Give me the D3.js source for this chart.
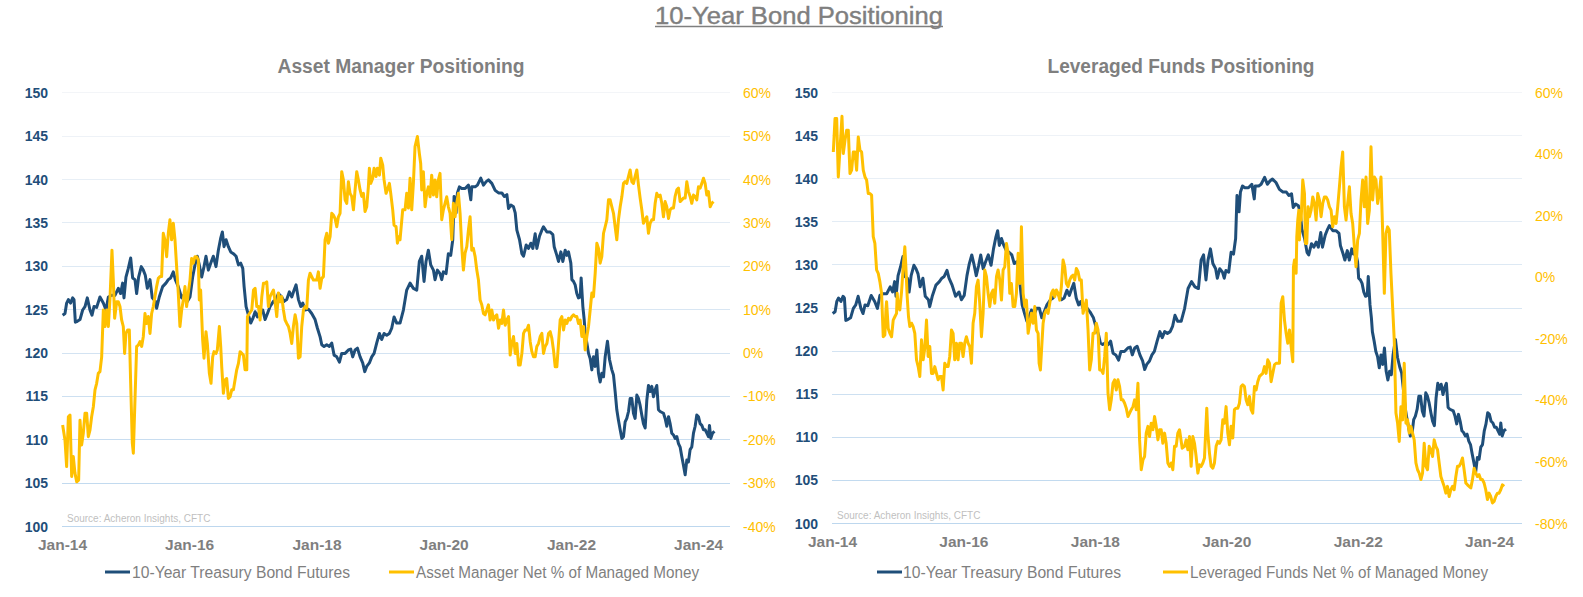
<!DOCTYPE html>
<html>
<head>
<meta charset="utf-8">
<script src="https://cdn.jsdelivr.net/npm/d3@7"></script>
<style>
  html, body { margin: 0; padding: 0; background: #ffffff; }
  svg { display: block; }
  .narrow { font-family: 'Liberation Sans Narrow', 'Arial Narrow', 'Liberation Sans', Arial, sans-serif; }
  .arial { font-family: 'Liberation Sans', Arial, sans-serif; }
</style>
</head>
<body>
<svg id="chart" width="1583" height="597"></svg>
<script>
// ---------------- DATA (x = years since Jan 2014) ----------------
const BASE_YEAR = 2014;
const mainTitle = "10-Year Bond Positioning";
const panelTitles = ["Asset Manager Positioning", "Leveraged Funds Positioning"];
const seriesNames = ["10-Year Treasury Bond Futures", "Asset Manager Net % of Managed Money", "Leveraged Funds Net % of Managed Money"];
const sourceText = "Source: Acheron Insights, CFTC";
const leftTicks = [100, 105, 110, 115, 120, 125, 130, 135, 140, 145, 150];
const rightTicksAM = [-40, -30, -20, -10, 0, 10, 20, 30, 40, 50, 60];
const rightTicksLF = [-80, -60, -40, -20, 0, 20, 40, 60];
const xTickYears = [2014, 2016, 2018, 2020, 2022, 2024];
const xDomainYears = [0, 10.5];

const treasury = [
[0.01,124.3],[0.047,124.5],[0.073,125.7],[0.10,126.1],[0.136,125.7],[0.168,126.3],[0.189,126.1],[0.21,123.5],[0.241,123.6],[0.283,123.8],
[0.325,124.9],[0.362,125.3],[0.398,126.3],[0.44,124.9],[0.472,124.3],[0.503,125.3],[0.545,125.2],[0.597,126.4],[0.65,125.7],[0.692,124.9],
[0.729,126.4],[0.781,126.6],[0.833,126.6],[0.886,127.4],[0.922,126.8],[0.954,128.0],[0.975,126.3],[1.006,128.7],[1.043,129.7],[1.08,130.9],
[1.111,128.6],[1.148,128.4],[1.174,126.8],[1.205,128.7],[1.247,129.9],[1.279,129.5],[1.31,128.9],[1.342,127.4],[1.384,128.4],[1.42,126.3],
[1.468,125.9],[1.488,125.1],[1.53,126.4],[1.583,127.6],[1.635,128.0],[1.672,128.4],[1.709,128.6],[1.751,129.3],[1.782,128.4],[1.829,127.6],
[1.882,126.3],[1.934,126.8],[1.971,125.9],[2.013,126.4],[2.055,128.7],[2.091,130.1],[2.128,131.1],[2.159,130.1],[2.196,128.7],[2.233,129.9],
[2.264,131.1],[2.301,129.5],[2.338,130.3],[2.379,131.1],[2.421,129.9],[2.458,131.8],[2.495,133.2],[2.521,133.9],[2.547,132.2],[2.579,133.0],
[2.615,132.2],[2.652,131.6],[2.694,131.4],[2.736,131.1],[2.773,130.1],[2.809,130.3],[2.841,129.7],[2.862,127.6],[2.893,125.3],[2.93,124.3],
[2.966,123.4],[2.998,123.9],[3.035,124.7],[3.071,124.1],[3.113,124.9],[3.155,124.9],[3.192,123.8],[3.229,124.5],[3.27,125.3],[3.323,125.9],
[3.365,126.1],[3.401,126.8],[3.454,126.4],[3.491,125.9],[3.532,126.1],[3.574,127.0],[3.611,126.4],[3.648,127.2],[3.679,127.8],[3.716,126.1],
[3.753,125.3],[3.784,125.7],[3.821,124.9],[3.873,125.0],[3.925,124.5],[3.978,123.8],[4.015,122.8],[4.057,121.8],[4.083,120.9],[4.119,120.7],
[4.161,120.9],[4.203,120.7],[4.24,121.1],[4.277,119.7],[4.319,119.5],[4.361,118.9],[4.397,119.9],[4.45,119.9],[4.502,120.3],[4.539,120.4],
[4.57,119.5],[4.607,120.3],[4.644,120.5],[4.686,119.5],[4.727,118.8],[4.759,117.8],[4.790,118.4],[4.832,118.8],[4.869,119.5],[4.906,119.9],
[4.948,121.1],[4.99,122.2],[5.026,121.5],[5.063,122.2],[5.105,122.0],[5.147,122.2],[5.183,122.8],[5.22,124.1],[5.262,123.4],[5.314,123.4],
[5.367,124.9],[5.419,127.2],[5.472,128.0],[5.524,127.4],[5.577,127.2],[5.618,130.5],[5.655,131.1],[5.692,128.2],[5.723,130.5],[5.76,131.8],
[5.797,130.1],[5.839,129.5],[5.865,128.4],[5.902,129.5],[5.943,129.1],[5.97,128.4],[5.996,129.3],[6.038,129.1],[6.074,131.4],[6.111,131.2],
[6.143,133.0],[6.164,138.0],[6.195,136.1],[6.216,138.4],[6.247,139.1],[6.284,138.9],[6.337,138.9],[6.389,139.3],[6.426,137.6],[6.441,139.1],
[6.494,139.1],[6.53,139.3],[6.583,140.1],[6.625,139.3],[6.667,139.7],[6.703,139.9],[6.756,139.5],[6.808,138.7],[6.861,138.4],[6.913,138.4],
[6.95,138.0],[6.992,138.2],[7.018,136.6],[7.055,137.0],[7.096,136.8],[7.123,136.1],[7.149,134.1],[7.191,133.0],[7.228,131.4],[7.254,131.1],
[7.296,132.4],[7.332,132.0],[7.369,132.6],[7.4,132.0],[7.437,133.7],[7.463,132.0],[7.505,133.4],[7.542,134.1],[7.568,134.5],[7.621,133.9],
[7.673,133.9],[7.715,133.6],[7.736,132.2],[7.778,131.2],[7.804,130.5],[7.841,131.6],[7.872,130.5],[7.909,131.8],[7.935,131.2],[7.961,131.6],
[7.998,130.3],[8.014,128.4],[8.04,128.2],[8.066,127.8],[8.092,126.8],[8.118,126.3],[8.145,126.4],[8.16,128.6],[8.187,125.3],[8.208,123.8],
[8.223,122.2],[8.25,121.1],[8.276,119.9],[8.302,119.3],[8.328,118.0],[8.354,119.5],[8.381,118.4],[8.407,120.3],[8.433,117.6],[8.459,116.6],
[8.485,117.6],[8.512,117.2],[8.538,119.5],[8.574,121.3],[8.606,119.2],[8.643,118.0],[8.669,117.4],[8.695,115.5],[8.721,113.4],[8.747,112.2],
[8.774,111.1],[8.8,110.1],[8.826,110.3],[8.852,112.0],[8.878,112.4],[8.905,113.2],[8.931,114.7],[8.957,114.7],[8.983,113.0],[9.009,112.4],
[9.036,115.1],[9.062,114.7],[9.088,113.9],[9.114,112.8],[9.14,111.8],[9.167,111.3],[9.193,114.5],[9.219,116.2],[9.245,115.5],[9.271,116.1],
[9.298,114.9],[9.324,115.7],[9.35,116.2],[9.376,113.4],[9.403,113.2],[9.455,113.0],[9.481,112.4],[9.507,111.5],[9.534,112.6],[9.56,111.8],
[9.586,110.7],[9.612,110.5],[9.638,110.1],[9.665,110.3],[9.691,109.5],[9.717,109.1],[9.743,108.0],[9.769,107.0],[9.796,105.9],[9.822,107.6],
[9.848,107.4],[9.874,108.8],[9.9,109.1],[9.927,110.7],[9.953,111.5],[9.979,112.8],[10.005,112.6],[10.031,111.8],[10.058,111.6],[10.084,111.1],
[10.11,111.1],[10.136,110.7],[10.162,110.3],[10.178,111.6],[10.199,110.1],[10.225,110.7],[10.257,110.9]
];

const assetManagerPct = [
[0.01,-16.7],[0.047,-20.2],[0.073,-26.3],[0.10,-14.8],[0.126,-14.4],[0.152,-28.6],[0.178,-24.0],[0.204,-27.8],[0.231,-29.8],[0.262,-29.4],
[0.283,-15.6],[0.309,-21.3],[0.335,-18.6],[0.362,-14.0],[0.388,-14.0],[0.414,-19.4],[0.44,-17.9],[0.466,-14.8],[0.493,-12.5],[0.519,-8.6],
[0.545,-7.1],[0.571,-4.8],[0.597,-4.4],[0.624,-1.0],[0.65,9.8],[0.676,6.0],[0.702,9.8],[0.729,6.0],[0.755,12.5],[0.786,23.6],
[0.807,16.7],[0.828,7.9],[0.86,11.7],[0.886,11.7],[0.912,10.6],[0.938,7.5],[0.964,6.0],[0.985,-0.2],[1.006,4.4],[1.033,5.2],
[1.059,5.2],[1.08,-7.1],[1.106,-20.9],[1.122,-23.2],[1.148,-10.9],[1.174,1.4],[1.2,1.7],[1.226,2.5],[1.253,1.4],[1.279,3.7],
[1.305,9.0],[1.331,6.7],[1.358,8.3],[1.384,4.4],[1.41,9.0],[1.436,10.6],[1.462,12.9],[1.488,15.2],[1.515,17.1],[1.541,17.5],
[1.567,17.5],[1.593,27.5],[1.619,26.0],[1.646,22.1],[1.672,27.5],[1.698,30.6],[1.724,26.0],[1.751,29.8],[1.777,26.0],[1.803,19.8],
[1.829,13.7],[1.855,6.0],[1.882,9.8],[1.908,12.1],[1.934,15.2],[1.96,10.6],[1.986,13.7],[2.013,16.7],[2.039,21.7],[2.065,20.6],
[2.091,22.1],[2.117,22.1],[2.144,21.3],[2.159,12.1],[2.18,14.4],[2.212,2.9],[2.233,-1.3],[2.264,4.8],[2.285,2.1],[2.317,-4.8],
[2.343,-7.1],[2.369,-1.0],[2.39,0.2],[2.421,-0.2],[2.442,0.6],[2.474,6.0],[2.495,1.4],[2.511,-3.3],[2.537,-9.4],[2.563,-6.3],
[2.589,-6.0],[2.615,-10.6],[2.642,-10.2],[2.668,-8.6],[2.694,-8.6],[2.72,-6.3],[2.746,-4.0],[2.773,-2.5],[2.799,0.2],[2.825,-0.2],
[2.851,-0.6],[2.877,-4.0],[2.904,-4.0],[2.914,8.3],[2.946,9.0],[2.982,9.8],[3.009,14.4],[3.035,14.8],[3.061,10.6],[3.087,10.6],
[3.113,7.5],[3.14,12.9],[3.166,16.0],[3.192,16.0],[3.218,16.3],[3.244,10.6],[3.27,12.9],[3.297,13.7],[3.323,14.4],[3.349,11.7],
[3.375,8.3],[3.401,13.7],[3.428,11.7],[3.454,12.9],[3.48,9.8],[3.506,7.5],[3.532,6.7],[3.559,6.0],[3.585,4.4],[3.611,2.1],
[3.637,6.0],[3.664,8.7],[3.69,6.7],[3.716,-1.3],[3.742,-1.0],[3.768,6.0],[3.795,9.8],[3.821,10.6],[3.847,10.2],[3.873,16.7],
[3.899,18.3],[3.925,17.5],[3.952,16.7],[3.978,16.7],[4.004,16.7],[4.03,18.6],[4.057,14.8],[4.083,17.1],[4.109,17.5],[4.135,26.0],
[4.161,27.5],[4.188,25.2],[4.214,26.7],[4.24,32.1],[4.266,31.7],[4.292,30.9],[4.319,29.0],[4.345,31.3],[4.371,32.1],[4.397,41.7],
[4.423,39.8],[4.45,35.2],[4.476,34.4],[4.502,39.4],[4.528,36.7],[4.554,36.0],[4.581,32.9],[4.607,37.5],[4.633,41.7],[4.659,39.8],
[4.686,37.5],[4.712,36.0],[4.738,36.7],[4.764,32.5],[4.79,33.6],[4.816,38.2],[4.832,42.5],[4.853,39.0],[4.885,40.2],[4.906,42.5],
[4.937,40.6],[4.958,42.5],[4.99,40.9],[5.011,44.8],[5.042,43.2],[5.063,39.8],[5.094,36.7],[5.115,37.5],[5.147,39.0],[5.168,36.7],
[5.199,32.9],[5.22,29.4],[5.252,29.0],[5.273,25.2],[5.294,26.7],[5.314,26.0],[5.356,32.9],[5.393,32.9],[5.419,36.7],[5.446,33.3],
[5.472,40.2],[5.498,32.9],[5.524,39.0],[5.55,47.5],[5.587,49.8],[5.618,45.9],[5.639,43.6],[5.655,37.5],[5.681,41.7],[5.708,33.6],
[5.734,36.7],[5.76,38.2],[5.786,35.9],[5.812,40.9],[5.839,36.3],[5.865,39.8],[5.891,35.9],[5.917,39.8],[5.943,41.3],[5.97,30.6],
[5.996,32.9],[6.022,34.4],[6.048,35.9],[6.074,33.6],[6.101,32.1],[6.127,26.0],[6.153,34.4],[6.179,31.3],[6.205,34.4],[6.232,36.7],
[6.258,32.1],[6.284,24.4],[6.31,19.0],[6.336,22.9],[6.363,24.4],[6.389,28.3],[6.415,31.3],[6.441,23.6],[6.467,24.0],[6.494,22.1],
[6.52,19.0],[6.546,16.7],[6.572,12.1],[6.598,11.0],[6.625,9.0],[6.651,8.7],[6.677,9.8],[6.703,11.0],[6.729,7.5],[6.756,9.8],
[6.782,7.5],[6.808,8.3],[6.834,8.7],[6.861,5.6],[6.887,7.5],[6.913,6.7],[6.939,9.8],[6.965,6.3],[6.992,7.5],[7.018,8.3],
[7.044,-0.6],[7.07,2.1],[7.096,3.7],[7.123,-0.2],[7.149,2.1],[7.175,-2.9],[7.201,-2.9],[7.228,-0.2],[7.254,4.4],[7.28,5.2],
[7.306,5.2],[7.332,6.3],[7.359,2.5],[7.385,0.2],[7.411,-1.0],[7.437,-1.0],[7.463,1.4],[7.49,2.1],[7.516,3.7],[7.542,4.4],
[7.568,-0.2],[7.594,1.4],[7.621,2.1],[7.647,4.4],[7.673,4.8],[7.699,3.3],[7.725,0.6],[7.752,-3.3],[7.778,-3.3],[7.804,2.1],
[7.83,7.5],[7.856,8.3],[7.883,5.2],[7.909,7.5],[7.935,6.7],[7.961,7.9],[7.987,7.5],[8.014,8.3],[8.04,8.7],[8.066,8.3],
[8.092,8.3],[8.118,6.7],[8.145,7.5],[8.171,3.7],[8.197,6.0],[8.223,0.6],[8.25,3.7],[8.276,6.0],[8.302,9.8],[8.328,13.7],
[8.354,12.9],[8.381,18.3],[8.407,25.2],[8.433,24.0],[8.459,20.6],[8.485,22.1],[8.512,27.5],[8.538,29.0],[8.564,30.6],[8.59,35.2],
[8.616,35.2],[8.643,33.6],[8.669,32.1],[8.695,29.0],[8.721,26.0],[8.747,30.6],[8.774,33.6],[8.8,35.9],[8.826,39.0],[8.852,39.4],
[8.878,39.0],[8.905,40.6],[8.931,42.1],[8.957,39.4],[8.983,39.0],[9.009,40.6],[9.036,42.1],[9.062,38.6],[9.088,35.6],[9.114,32.9],
[9.14,29.8],[9.167,30.6],[9.193,31.3],[9.219,27.5],[9.245,29.8],[9.271,30.6],[9.298,30.6],[9.324,34.4],[9.35,36.7],[9.376,36.0],
[9.403,36.3],[9.429,34.4],[9.455,31.3],[9.481,34.8],[9.507,33.6],[9.534,30.9],[9.56,32.9],[9.586,33.3],[9.612,33.3],[9.638,36.0],
[9.665,37.5],[9.691,37.9],[9.717,34.8],[9.743,35.2],[9.769,35.6],[9.796,35.6],[9.822,39.4],[9.848,37.1],[9.874,36.0],[9.9,34.4],
[9.927,36.3],[9.953,36.0],[9.979,35.2],[10.005,38.2],[10.031,37.9],[10.058,39.0],[10.084,40.2],[10.11,39.0],[10.136,36.3],[10.162,37.1],
[10.189,33.6],[10.215,34.4],[10.241,34.8]
];

const leveragedFundsPct = [
[0.02,40.5],[0.046,51.4],[0.071,51.4],[0.096,32.4],[0.152,52.1],[0.172,40.0],[0.198,44.3],[0.223,47.6],[0.248,47.6],[0.274,33.5],
[0.299,34.6],[0.324,40.5],[0.35,40.5],[0.375,34.6],[0.4,45.4],[0.426,41.1],[0.451,40.5],[0.476,34.6],[0.502,32.4],[0.527,31.4],
[0.552,27.0],[0.578,27.0],[0.603,26.5],[0.628,13.0],[0.653,10.8],[0.679,2.2],[0.704,1.1],[0.729,-1.6],[0.755,-5.4],[0.78,-19.5],
[0.805,-18.9],[0.821,-10.8],[0.831,-8.1],[0.856,-16.8],[0.881,-18.4],[0.907,-19.5],[0.932,-14.1],[0.957,-13.0],[0.983,-11.9],[0.993,-5.4],
[1.008,-9.7],[1.033,-10.8],[1.059,-4.9],[1.084,3.2],[1.109,9.7],[1.125,3.2],[1.145,-6.5],[1.165,-13.0],[1.185,-16.2],[1.211,-15.1],
[1.236,-16.2],[1.261,-18.4],[1.287,-27.0],[1.312,-29.2],[1.337,-32.4],[1.363,-20.5],[1.388,-27.0],[1.413,-23.2],[1.439,-14.1],[1.464,-25.9],
[1.489,-22.7],[1.515,-31.4],[1.54,-31.4],[1.565,-29.2],[1.591,-31.4],[1.616,-33.5],[1.641,-32.4],[1.667,-32.4],[1.692,-36.8],[1.717,-28.1],
[1.743,-29.2],[1.768,-29.2],[1.793,-25.9],[1.819,-17.3],[1.844,-18.4],[1.869,-27.0],[1.895,-21.6],[1.92,-27.0],[1.945,-21.6],[1.971,-21.6],
[1.996,-25.9],[2.021,-21.6],[2.047,-19.5],[2.072,-21.6],[2.097,-22.7],[2.123,-28.1],[2.148,-15.1],[2.173,-11.9],[2.199,-3.2],[2.224,-1.1],
[2.249,-8.6],[2.275,-19.5],[2.3,-11.9],[2.325,2.2],[2.351,0.0],[2.376,-5.4],[2.401,-9.7],[2.427,-5.4],[2.452,-4.3],[2.477,-8.6],
[2.503,0.0],[2.528,2.2],[2.553,-1.1],[2.579,-7.6],[2.604,2.2],[2.629,3.2],[2.655,10.8],[2.68,7.6],[2.705,-5.4],[2.73,-2.2],
[2.756,-9.7],[2.781,-9.7],[2.806,-5.4],[2.832,7.6],[2.857,-2.2],[2.867,0.0],[2.882,16.2],[2.908,-5.4],[2.933,-9.7],[2.958,-7.6],
[2.984,-18.4],[3.009,-15.1],[3.034,-11.9],[3.06,-15.1],[3.085,-9.7],[3.11,-17.3],[3.136,-18.4],[3.151,-28.1],[3.171,-30.3],[3.191,-22.7],
[3.212,-15.1],[3.237,-11.9],[3.262,-10.8],[3.288,-11.9],[3.313,-8.6],[3.338,-5.4],[3.364,-4.3],[3.389,-6.5],[3.414,-4.3],[3.44,-5.4],
[3.465,-7.6],[3.49,-3.2],[3.516,5.4],[3.541,3.2],[3.566,-2.2],[3.592,-3.2],[3.617,-1.1],[3.642,0.0],[3.668,0.5],[3.693,-1.1],
[3.718,2.7],[3.744,1.6],[3.769,-1.1],[3.794,-1.1],[3.82,-11.9],[3.845,-9.7],[3.87,-7.6],[3.896,-17.3],[3.921,-30.3],[3.946,-27.0],
[3.972,-18.4],[3.997,-18.4],[4.022,-15.1],[4.048,-17.3],[4.073,-30.3],[4.098,-30.3],[4.124,-31.4],[4.149,-25.9],[4.174,-18.4],[4.2,-37.8],
[4.225,-43.2],[4.25,-40.0],[4.276,-34.6],[4.301,-33.5],[4.326,-36.8],[4.352,-33.5],[4.377,-35.7],[4.402,-40.0],[4.428,-40.0],[4.453,-41.1],
[4.478,-42.7],[4.504,-45.4],[4.529,-44.3],[4.554,-43.2],[4.58,-42.2],[4.605,-40.0],[4.63,-43.2],[4.656,-34.6],[4.681,-53.0],[4.706,-62.7],
[4.732,-59.5],[4.757,-58.4],[4.782,-50.8],[4.808,-48.6],[4.833,-51.9],[4.858,-47.6],[4.884,-49.7],[4.909,-45.4],[4.934,-48.6],[4.96,-53.0],
[4.985,-49.7],[5.01,-49.7],[5.035,-54.1],[5.061,-50.8],[5.086,-54.1],[5.111,-60.5],[5.137,-61.6],[5.162,-60.5],[5.187,-62.7],[5.213,-55.1],
[5.238,-55.1],[5.263,-50.8],[5.289,-49.7],[5.33,-55.7],[5.365,-55.1],[5.39,-53.0],[5.416,-56.2],[5.441,-51.9],[5.466,-61.6],[5.492,-51.9],
[5.517,-54.1],[5.542,-58.4],[5.568,-63.8],[5.593,-61.1],[5.618,-61.6],[5.644,-60.5],[5.669,-58.9],[5.704,-42.7],[5.72,-50.8],[5.745,-57.3],
[5.77,-61.6],[5.796,-62.2],[5.821,-60.5],[5.846,-55.1],[5.872,-53.5],[5.897,-54.1],[5.922,-53.0],[5.948,-46.5],[5.973,-47.6],[5.998,-42.2],
[6.024,-50.8],[6.049,-54.6],[6.074,-48.6],[6.1,-52.4],[6.125,-43.2],[6.15,-42.7],[6.176,-42.7],[6.201,-41.1],[6.226,-35.7],[6.251,-35.1],
[6.277,-35.7],[6.302,-40.0],[6.327,-41.6],[6.353,-38.9],[6.378,-43.2],[6.403,-44.3],[6.429,-35.7],[6.454,-36.8],[6.479,-34.1],[6.505,-32.4],
[6.53,-31.9],[6.555,-31.4],[6.581,-29.2],[6.606,-31.4],[6.631,-27.0],[6.657,-28.1],[6.682,-34.1],[6.707,-31.4],[6.733,-28.6],[6.758,-28.1],
[6.783,-28.1],[6.809,-28.1],[6.834,-8.6],[6.859,-6.5],[6.885,-14.1],[6.91,-18.4],[6.935,-21.6],[6.961,-17.3],[6.986,-22.7],[7.011,-27.6],
[7.021,3.2],[7.037,5.4],[7.062,1.1],[7.072,13.0],[7.087,18.4],[7.103,21.6],[7.113,11.9],[7.123,20.5],[7.138,18.4],[7.163,31.4],
[7.189,27.0],[7.204,10.8],[7.224,10.8],[7.244,22.7],[7.265,19.5],[7.29,21.6],[7.315,25.9],[7.341,23.8],[7.366,18.4],[7.391,27.0],
[7.417,24.9],[7.442,19.5],[7.467,23.8],[7.493,25.9],[7.518,25.9],[7.543,24.9],[7.569,22.7],[7.594,21.6],[7.619,16.2],[7.645,19.5],
[7.67,17.3],[7.695,22.7],[7.721,29.2],[7.746,35.7],[7.771,40.5],[7.797,22.7],[7.822,18.4],[7.847,23.8],[7.873,29.2],[7.898,20.5],
[7.923,17.3],[7.949,9.7],[7.974,3.2],[7.999,11.9],[8.025,14.1],[8.05,24.9],[8.075,31.4],[8.101,22.7],[8.126,32.4],[8.151,17.3],
[8.177,21.6],[8.202,42.2],[8.227,24.9],[8.253,32.4],[8.278,31.4],[8.303,23.8],[8.329,27.0],[8.354,32.4],[8.379,15.1],[8.405,-5.4],
[8.43,14.1],[8.455,16.2],[8.48,15.1],[8.506,1.1],[8.531,-9.7],[8.556,-20.5],[8.582,-44.3],[8.607,-47.6],[8.632,-53.5],[8.658,-42.2],
[8.683,-46.5],[8.708,-28.1],[8.734,-47.6],[8.759,-46.5],[8.784,-50.8],[8.81,-48.6],[8.835,-50.8],[8.86,-53.0],[8.886,-60.5],[8.911,-62.7],
[8.936,-63.8],[8.962,-65.9],[8.987,-63.8],[9.012,-54.1],[9.038,-61.6],[9.063,-62.7],[9.088,-55.1],[9.114,-56.2],[9.139,-58.4],[9.164,-53.0],
[9.19,-55.1],[9.215,-56.2],[9.24,-60.5],[9.266,-64.9],[9.291,-66.5],[9.316,-68.1],[9.342,-70.3],[9.367,-68.1],[9.392,-71.4],[9.418,-69.2],
[9.443,-68.1],[9.468,-69.2],[9.494,-64.9],[9.519,-61.6],[9.544,-61.6],[9.57,-60.5],[9.595,-58.9],[9.62,-62.7],[9.646,-67.0],[9.671,-67.6],
[9.696,-68.1],[9.722,-68.6],[9.747,-65.9],[9.772,-62.2],[9.798,-63.8],[9.823,-64.9],[9.848,-64.3],[9.874,-65.9],[9.899,-65.9],[9.924,-67.0],
[9.949,-69.2],[9.975,-72.4],[10.0,-70.3],[10.025,-71.4],[10.051,-73.5],[10.076,-73.0],[10.101,-71.4],[10.127,-70.3],[10.152,-70.3],[10.177,-69.2],
[10.203,-67.6],[10.228,-68.1]
];

// ---------------- STYLE ----------------
const NAVY = "#1f4e79", GOLD = "#ffc000", GRAY = "#7f7f7f";

function toDate(off) {
  const y = BASE_YEAR + Math.floor(off);
  const frac = off - Math.floor(off);
  const s = Date.UTC(y, 0, 1), e = Date.UTC(y + 1, 0, 1);
  return new Date(s + frac * (e - s));
}

const svg = d3.select("#chart");

// main title
svg.append("text")
  .attr("class", "arial")
  .attr("x", 799).attr("y", 23.5)
  .attr("text-anchor", "middle")
  .attr("font-size", 23)
  .attr("fill", GRAY)
  .attr("stroke", GRAY).attr("stroke-width", 0.4)
  .attr("textLength", 288).attr("lengthAdjust", "spacingAndGlyphs")
  .text(mainTitle);
svg.append("line").attr("x1", 655).attr("x2", 943).attr("y1", 26.5).attr("y2", 26.5)
  .attr("stroke", GRAY).attr("stroke-width", 1.5);

const panels = [
  { title: panelTitles[0], titleW: 247, x0: 62, x1: 730, y0: 92.3, y1: 526, pct: assetManagerPct, pctDomain: [-40, 60], pctTicks: rightTicksAM,
    name2: seriesNames[1], leftLabelX: 48, rightLabelX: 743, titleX: 401,
    legend: { s1: 105, t1: 132, w1: 218, s2: 389, t2: 416, w2: 283 }, sourceX: 67 },
  { title: panelTitles[1], titleW: 267, x0: 832, x1: 1522, y0: 92, y1: 523, pct: leveragedFundsPct, pctDomain: [-80, 60], pctTicks: rightTicksLF,
    name2: seriesNames[2], leftLabelX: 818, rightLabelX: 1535, titleX: 1181,
    legend: { s1: 877, t1: 903, w1: 218, s2: 1163, t2: 1190, w2: 298 }, sourceX: 837 }
];

const gridColor = d3.scaleLinear().domain([150, 100]).range(["#f3f5f8", "#bdd7ee"]);

panels.forEach(p => {
  const x = d3.scaleUtc().domain(xDomainYears.map(toDate)).range([p.x0, p.x1]);
  const yL = d3.scaleLinear().domain([100, 150]).range([p.y1, p.y0]);
  const yR = d3.scaleLinear().domain(p.pctDomain).range([p.y1, p.y0]);
  const g = svg.append("g");

  // panel title
  g.append("text").attr("class", "narrow")
    .attr("x", p.titleX).attr("y", 73)
    .attr("text-anchor", "middle").attr("font-size", 20).attr("font-weight", "bold")
    .attr("fill", GRAY)
    .attr("textLength", p.titleW).attr("lengthAdjust", "spacingAndGlyphs")
    .text(p.title);

  // gridlines
  g.append("g").selectAll("line").data(leftTicks).join("line")
    .attr("x1", p.x0).attr("x2", p.x1)
    .attr("y1", d => Math.round(yL(d)) + 0.5).attr("y2", d => Math.round(yL(d)) + 0.5)
    .attr("stroke", d => gridColor(d)).attr("stroke-width", 1);

  // left axis
  const axL = d3.axisLeft(yL).tickValues(leftTicks).tickSize(0).tickPadding(0).tickFormat(d3.format("d"));
  const gL = g.append("g").attr("transform", `translate(${p.leftLabelX},0)`).call(axL);
  gL.select(".domain").remove();
  gL.selectAll("text").attr("class", "arial").attr("font-size", 14).attr("font-weight", "bold").attr("fill", NAVY).attr("dy", "0.36em");

  // right axis
  const axR = d3.axisRight(yR).tickValues(p.pctTicks).tickSize(0).tickPadding(0).tickFormat(d => d + "%");
  const gR = g.append("g").attr("transform", `translate(${p.rightLabelX},0)`).call(axR);
  gR.select(".domain").remove();
  gR.selectAll("text").attr("class", "arial").attr("font-size", 14).attr("fill", GOLD).attr("dy", "0.36em");

  // x axis
  const axX = d3.axisBottom(x).tickValues(xTickYears.map(yr => toDate(yr - BASE_YEAR))).tickSize(0).tickPadding(0)
    .tickFormat(d3.utcFormat("%b-%y"));
  const gX = g.append("g").attr("transform", `translate(0,${p.y1 + 10})`).call(axX);
  gX.select(".domain").remove();
  gX.selectAll("text").attr("class", "narrow").attr("font-size", 15.5).attr("font-weight", "bold").attr("fill", GRAY).attr("dy", "0.92em");

  // source
  g.append("text").attr("class", "arial").attr("x", p.sourceX).attr("y", p.y1 - 4)
    .attr("font-size", 10).attr("fill", "#bfbfbf").text(sourceText);

  // lines
  const lineL = d3.line().x(d => x(toDate(d[0]))).y(d => yL(d[1]));
  const lineR = d3.line().x(d => x(toDate(d[0]))).y(d => yR(d[1]));
  g.append("path").datum(treasury).attr("d", lineL).attr("fill", "none")
    .attr("stroke", NAVY).attr("stroke-width", 3).attr("stroke-linejoin", "round");
  g.append("path").datum(p.pct).attr("d", lineR).attr("fill", "none")
    .attr("stroke", GOLD).attr("stroke-width", 3).attr("stroke-linejoin", "round");

  // legend
  const ly = 572;
  g.append("line").attr("x1", p.legend.s1).attr("x2", p.legend.s1 + 25).attr("y1", ly).attr("y2", ly)
    .attr("stroke", NAVY).attr("stroke-width", 3);
  g.append("text").attr("class", "narrow").attr("x", p.legend.t1).attr("y", ly).attr("dy", "0.35em")
    .attr("font-size", 16).attr("fill", GRAY)
    .attr("textLength", p.legend.w1).attr("lengthAdjust", "spacingAndGlyphs")
    .text(seriesNames[0]);
  g.append("line").attr("x1", p.legend.s2).attr("x2", p.legend.s2 + 25).attr("y1", ly).attr("y2", ly)
    .attr("stroke", GOLD).attr("stroke-width", 3);
  g.append("text").attr("class", "narrow").attr("x", p.legend.t2).attr("y", ly).attr("dy", "0.35em")
    .attr("font-size", 16).attr("fill", GRAY)
    .attr("textLength", p.legend.w2).attr("lengthAdjust", "spacingAndGlyphs")
    .text(p.name2);
});
</script>
</body>
</html>
